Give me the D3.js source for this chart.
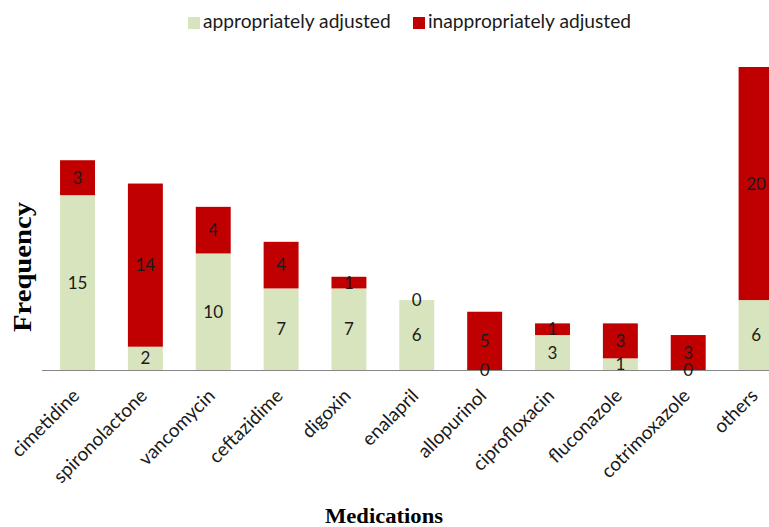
<!DOCTYPE html>
<html><head><meta charset="utf-8">
<script src="https://cdn.jsdelivr.net/npm/d3@7"></script>
<style>body{margin:0;background:#fff}svg{display:block}</style>
</head><body>
<svg id="c" width="769" height="527"></svg>
<script>
const categories = ["cimetidine","spironolactone","vancomycin","ceftazidime","digoxin","enalapril","allopurinol","ciprofloxacin","fluconazole","cotrimoxazole","others"];
const appropriate = [15,2,10,7,7,6,0,3,1,0,6];
const inappropriate = [3,14,4,4,1,0,5,1,3,3,20];
const seriesNames = ["appropriately adjusted","inappropriately adjusted"];
const colors = ["#d7e4bd","#c00000"];

const svg = d3.select("#c");
const base = 370;
const x = d3.scaleBand().domain(categories).range([43.6, 790]).paddingInner(0.485).paddingOuter(0.2425);
const y = d3.scaleLinear().domain([0, 26]).range([base, 67]);
const font = "Lato, 'Noto Sans', sans-serif";

const rows = categories.map((c,i)=>({cat:c, a:appropriate[i], b:inappropriate[i]}));
const stack = d3.stack().keys(["a","b"])(rows);

stack.forEach((layer,li)=>{
  svg.append("g").selectAll("rect").data(layer).join("rect")
    .attr("x", d=>x(d.data.cat))
    .attr("width", x.bandwidth())
    .attr("y", d=>y(d[1]))
    .attr("height", d=>y(d[0])-y(d[1]))
    .attr("fill", colors[li]);
});

// axis baseline
svg.append("line").attr("x1",42).attr("x2",769).attr("y1",base+0.5).attr("y2",base+0.5)
  .attr("stroke","#868686").attr("stroke-width",1.2);

// value labels
stack.forEach((layer,li)=>{
  svg.append("g").selectAll("text").data(layer).join("text")
    .attr("x", d=>x(d.data.cat)+x.bandwidth()/2)
    .attr("y", d=>(y(d[0])+y(d[1]))/2)
    .attr("dy","0.36em")
    .attr("text-anchor","middle")
    .attr("font-family",font).attr("font-size",17).attr("fill","#1a1a1a")
    .text(d=>d[1]-d[0]);
});

// category labels
svg.append("g").selectAll("text").data(categories).join("text")
  .attr("transform", d=>`translate(${x(d)+x.bandwidth()/2+3},${base+27}) rotate(-45)`)
  .attr("text-anchor","end")
  .attr("font-family",font).attr("font-size",19).attr("fill","#1a1a1a")
  .text(d=>d);

// axis titles
svg.append("text").attr("x",384).attr("y",523).attr("text-anchor","middle")
  .attr("font-family","'Liberation Serif', 'Times New Roman', serif").attr("font-weight","bold")
  .attr("font-size",20).attr("fill","#000")
  .attr("textLength",118).attr("lengthAdjust","spacingAndGlyphs").text("Medications");
svg.append("text").attr("transform","translate(31,267) rotate(-90)").attr("text-anchor","middle")
  .attr("font-family","'Liberation Serif', 'Times New Roman', serif").attr("font-weight","bold")
  .attr("font-size",25).attr("fill","#000")
  .attr("textLength",130).attr("lengthAdjust","spacingAndGlyphs").text("Frequency");

// legend
const legX = [188, 413];
seriesNames.forEach((n,i)=>{
  const g = svg.append("g").attr("transform",`translate(${legX[i]},17)`);
  g.append("rect").attr("width",12).attr("height",12).attr("fill",colors[i]);
  g.append("text").attr("x",15).attr("y",11).attr("font-family",font).attr("font-size",19.2)
    .attr("fill","#1a1a1a").text(n);
});
</script>
</body></html>
